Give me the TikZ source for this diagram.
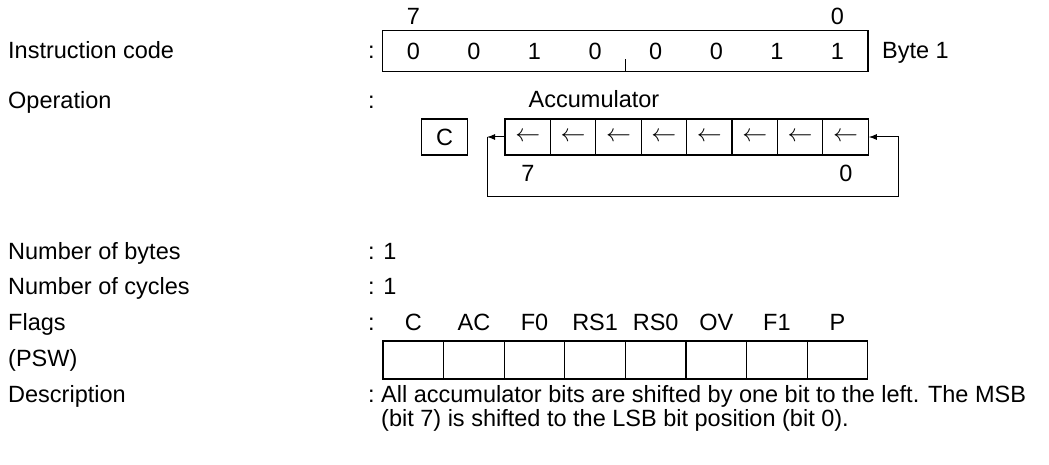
\documentclass[tikz,border=0pt]{standalone}
\usepackage{fontspec}
\setmainfont{Liberation Sans}
\usetikzlibrary{arrows.meta,calc}
\begin{document}
\begin{tikzpicture}[x={(1pt,0)},y={(0,-1pt)},
  every node/.style={font=\fontsize{23.5}{28}\selectfont, inner sep=0pt},
  lbl/.style={anchor=base west},
  ctr/.style={anchor=base},
  bitcell/.style={minimum width=60.6pt, minimum height=40pt},
  acccell/.style={draw, line width=1.1pt, minimum width=45.4pt, minimum height=36pt},
  flagcell/.style={draw, line width=1.1pt, minimum width=60.6pt, minimum height=38pt},
  box/.style={line width=1.1pt},
  tip/.style={-{Latex[length=8pt,width=6pt]}, line width=1pt}]
\useasboundingbox (0,0) rectangle (1049,465);
% left labels
\node[lbl] (l1) at (8,59) {Instruction code};
\node[lbl] (l2) at (8,109) {Operation};
\node[lbl] (l3) at (8,259) {Number of bytes};
\node[lbl] (l4) at (8,294) {Number of cycles};
\node[lbl] (l5) at (8,330) {Flags};
\node[lbl] (l6) at (8,366) {(PSW)};
\node[lbl] (l7) at (8,402) {Description};
% colons
\node[lbl] (c1) at (368,59) {:};
\node[lbl] (c2) at (368,109) {:};
\node[lbl] (c3) at (368,259) {: 1};
\node[lbl] (c4) at (368,294) {: 1};
\node[lbl] (c5) at (368,330) {:};
\node[lbl] (c7) at (368,402) {:};
% instruction code
\foreach \b [count=\i] in {0,0,1,0,0,0,1,1}
  \node[bitcell] (ib\i) at ({383+60.6*(\i-0.5)},51) {\b};
\draw[box] (ib1.north west) rectangle (ib8.south east);
\draw[box] (ib4.south east) -- ++(0,-12);
\node[ctr] (hi) at (ib1 |- 0,25) {7};
\node[ctr] (lo) at (ib8 |- 0,25) {0};
\node[lbl] (byte) at (882,59) {Byte 1};
% operation
\node[ctr] (accname) at (594,108) {Accumulator};
\node[acccell] (cy) at (444.5,137) {C};
\foreach \i in {1,...,8}
  \node[acccell] (a\i) at ({505+45.4*(\i-0.5)},137) {$\leftarrow$};
\node[ctr] (a7lbl) at (528,182) {7};
\node[ctr] (a0lbl) at (846,182) {0};
\coordinate (tipL) at (487,137);
\coordinate (corner) at (898,197);
\draw[tip] (a1.west) -- (tipL);
\draw[tip] (tipL) |- (corner) |- (a8.east);
% flags
\foreach \f [count=\i] in {C,AC,F0,RS1,RS0,OV,F1,P} {
  \node[ctr] (fl\i) at ({383+60.6*(\i-0.5)},330) {\f};
  \node[flagcell] (fc\i) at ({383+60.6*(\i-0.5)},360) {};
}
% description
\node[lbl] (d1) at (381,402) {All accumulator bits are shifted by one bit to the left. The MSB};
\node[lbl] (d2) at (381,426) {(bit 7) is shifted to the LSB bit position (bit 0).};
\end{tikzpicture}
\end{document}
